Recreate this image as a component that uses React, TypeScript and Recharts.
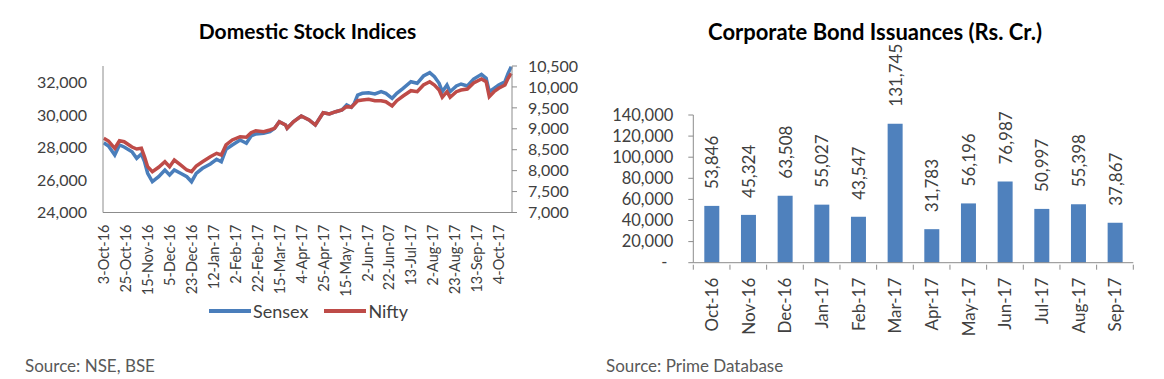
import { LineChart, Line, XAxis, YAxis, BarChart, Bar, LabelList } from 'recharts';

// trading-day index (0 = 3-Oct-16) and index levels
const dayIndex = [
  0, 3, 7, 10, 13, 18, 21, 24, 26, 28, 31, 35, 39, 42, 45, 49, 53, 56, 59, 63,
  68, 72, 75, 78, 82, 87, 91, 94, 97, 102, 106, 109, 112, 116, 117, 121, 126, 131, 135, 140,
  144, 148, 152, 155, 158, 160, 162, 165, 169, 173, 177, 180, 184, 187, 191, 196, 200, 204, 208, 211,
  214, 216, 219, 221, 225, 228, 232, 236, 241, 244, 246, 249, 252, 256, 258, 260,
];
const sensex = [
  28288, 28085, 27532, 28147, 28024, 27735, 27330, 27594, 27121, 26408, 25892, 26199, 26611, 26304, 26611, 26408, 26199, 25892, 26408, 26715,
  26979, 27268, 27121, 27882, 28147, 28454, 28251, 28699, 28822, 28865, 28963, 29172, 29578, 29375, 29172, 29578, 29928, 29683, 29375, 30131,
  30051, 30192, 30297, 30604, 30462, 30727, 31218, 31322, 31359, 31280, 31421, 31322, 31015, 31322, 31630, 32035, 31937, 32385, 32588, 32342,
  31937, 31421, 31832, 31421, 31771, 31894, 31771, 32201, 32490, 32244, 31421, 31630, 31832, 32035, 32551, 32956,
];
const nifty = [
  8773, 8708, 8534, 8715, 8691, 8565, 8517, 8534, 8333, 8094, 7975, 8080, 8214, 8094, 8254, 8135, 8015, 7975, 8111, 8214,
  8333, 8414, 8374, 8613, 8732, 8811, 8797, 8906, 8954, 8930, 8971, 9012, 9169, 9090, 9012, 9169, 9305, 9210, 9090, 9384,
  9353, 9408, 9449, 9528, 9514, 9592, 9671, 9688, 9704, 9671, 9671, 9647, 9544, 9671, 9783, 9910, 9886, 10046, 10125, 10046,
  9927, 9752, 9886, 9752, 9886, 9927, 9950, 10094, 10189, 10125, 9767, 9886, 9967, 10046, 10206, 10325,
];
const labelDays = [0, 14, 28, 42, 56, 70, 84, 98, 112, 126, 140, 154, 168, 182, 196, 210, 224, 238, 252];
const dateLabels = [
  '3-Oct-16', '25-Oct-16', '15-Nov-16', '5-Dec-16', '23-Dec-16', '12-Jan-17', '2-Feb-17', '22-Feb-17',
  '15-Mar-17', '4-Apr-17', '25-Apr-17', '15-May-17', '2-Jun-17', '22-Jun-07', '13-Jul-17', '2-Aug-17',
  '23-Aug-17', '13-Sep-17', '4-Oct-17',
];
const sensexTicks = [24000, 26000, 28000, 30000, 32000];
const niftyTicks = [7000, 7500, 8000, 8500, 9000, 9500, 10000, 10500];

const months = ['Oct-16', 'Nov-16', 'Dec-16', 'Jan-17', 'Feb-17', 'Mar-17', 'Apr-17', 'May-17', 'Jun-17', 'Jul-17', 'Aug-17', 'Sep-17'];
const issuances = [53846, 45324, 63508, 55027, 43547, 131745, 31783, 56196, 76987, 50997, 55398, 37867];
const bondTicks = [0, 20000, 40000, 60000, 80000, 100000, 120000, 140000];

const stockData = dayIndex.map((d, k) => ({ day: d, sensex: sensex[k], nifty: nifty[k] }));
const bondData = months.map((m, k) => ({ month: m, value: issuances[k] }));

const FONT = 'Lato, "Open Sans", sans-serif';
const TEXT = '#404040';
const AXIS = '#8c8c8c';
const BLUE = '#4a7ebb';
const RED = '#be4b48';
const fmt = (v: number) => v.toLocaleString('en-US');

const BAR_PLOT_W = 440;
const BAND = BAR_PLOT_W / months.length;

const DateTick = (props: any) => {
  const { x, y, payload } = props;
  const k = labelDays.indexOf(payload.value);
  const ty = y + 10;
  return (
    <text x={x} y={ty} transform={`rotate(-90, ${x}, ${ty})`} textAnchor="end" dominantBaseline="central"
      fontSize={14.5} fill={TEXT} fontFamily={FONT}>
      {dateLabels[k]}
    </text>
  );
};

const MonthTick = (props: any) => {
  const { x, y, payload, index } = props;
  const ty = y + 13;
  return (
    <g>
      <line x1={x - BAND / 2} x2={x - BAND / 2} y1={y} y2={y + 5} stroke={AXIS} />
      {index === months.length - 1 && <line x1={x + BAND / 2} x2={x + BAND / 2} y1={y} y2={y + 5} stroke={AXIS} />}
      <text x={x} y={ty} transform={`rotate(-90, ${x}, ${ty})`} textAnchor="end" dominantBaseline="central"
        fontSize={17} fill={TEXT} fontFamily={FONT}>
        {payload.value}
      </text>
    </g>
  );
};

const BondYTick = (props: any) => {
  const { x, y, payload } = props;
  const zero = payload.value === 0;
  return (
    <text x={zero ? x - 6 : x} y={y} dy="0.35em" textAnchor="end" fontSize={16.5} fill={TEXT} fontFamily={FONT}>
      {zero ? '-' : fmt(payload.value)}
    </text>
  );
};

const BarValue = (props: any) => {
  const { x, y, width, value } = props;
  const cx = x + width / 2;
  const ty = y - 17;
  return (
    <text x={cx} y={ty} transform={`rotate(-90, ${cx}, ${ty})`} textAnchor="start" dominantBaseline="central"
      fontSize={17} fill={TEXT} fontFamily={FONT}>
      {fmt(value)}
    </text>
  );
};

const tickStyle = { fontSize: 16, fill: TEXT, fontFamily: FONT };

export default function App() {
  return (
    <div style={{ position: 'absolute', left: 0, top: 0, width: 1164, height: 379, background: '#fff', fontFamily: FONT, color: TEXT }}>
      <div style={{ position: 'absolute', left: 103, width: 409, top: 18, textAlign: 'center', fontSize: 21, fontWeight: 700, color: '#000' }}>
        Domestic Stock Indices
      </div>
      <div style={{ position: 'absolute', left: 0, top: 0 }}>
        <LineChart width={580} height={300} data={stockData} margin={{ top: 66, right: 8, bottom: 0, left: 0 }}>
          <XAxis dataKey="day" type="number" domain={[-0.5, 260.5]} ticks={labelDays} interval={0}
            height={87.5} tickSize={0} tickLine={false} axisLine={{ stroke: AXIS }} tick={DateTick} />
          <YAxis yAxisId="s" orientation="left" width={103} domain={[24000, 33000]} ticks={sensexTicks} interval={0}
            tickFormatter={fmt} tickLine={false} tickSize={0} tickMargin={16} axisLine={{ stroke: AXIS }} tick={tickStyle} />
          <YAxis yAxisId="n" orientation="right" width={60} domain={[7000, 10500]} ticks={niftyTicks} interval={0}
            tickFormatter={fmt} tickSize={5} tickMargin={11} tickLine={{ stroke: AXIS }} axisLine={{ stroke: AXIS }} tick={tickStyle} />
          <Line yAxisId="s" dataKey="sensex" stroke={BLUE} strokeWidth={3.5} dot={false} isAnimationActive={false} />
          <Line yAxisId="n" dataKey="nifty" stroke={RED} strokeWidth={3.5} dot={false} isAnimationActive={false} />
        </LineChart>
      </div>
      <div style={{ position: 'absolute', left: 209, top: 300, display: 'flex', alignItems: 'center', fontSize: 18, color: TEXT, height: 22 }}>
        <svg width={42} height={6}><line x1={0} x2={42} y1={3} y2={3} stroke={BLUE} strokeWidth={4} /></svg>
        <span style={{ marginLeft: 2 }}>Sensex</span>
        <svg width={42} height={6} style={{ marginLeft: 16 }}><line x1={0} x2={42} y1={3} y2={3} stroke={RED} strokeWidth={4} /></svg>
        <span style={{ marginLeft: 2 }}>Nifty</span>
      </div>
      <div style={{ position: 'absolute', left: 25, top: 355, fontSize: 17, color: '#595959' }}>Source: NSE, BSE</div>

      <div style={{ position: 'absolute', left: 675, width: 400, top: 18, textAlign: 'center', fontSize: 22, fontWeight: 700, color: '#000' }}>
        Corporate Bond Issuances (Rs. Cr.)
      </div>
      <div style={{ position: 'absolute', left: 580, top: 0 }}>
        <BarChart width={584} height={340} data={bondData} margin={{ top: 115, right: 30.7, bottom: 0, left: 0 }} barSize={15}>
          <XAxis dataKey="month" interval={0} height={77.3} tickSize={0} tickLine={false} axisLine={{ stroke: AXIS }} tick={MonthTick} />
          <YAxis width={113.3} domain={[0, 140000]} ticks={bondTicks} interval={0} tickSize={5} tickMargin={15}
            tickLine={{ stroke: AXIS }} axisLine={{ stroke: AXIS }} tick={BondYTick} />
          <Bar dataKey="value" fill="#4f81bd" isAnimationActive={false}>
            <LabelList dataKey="value" content={BarValue} />
          </Bar>
        </BarChart>
      </div>
      <div style={{ position: 'absolute', left: 606, top: 355, fontSize: 17, color: '#595959' }}>Source: Prime Database</div>
    </div>
  );
}
